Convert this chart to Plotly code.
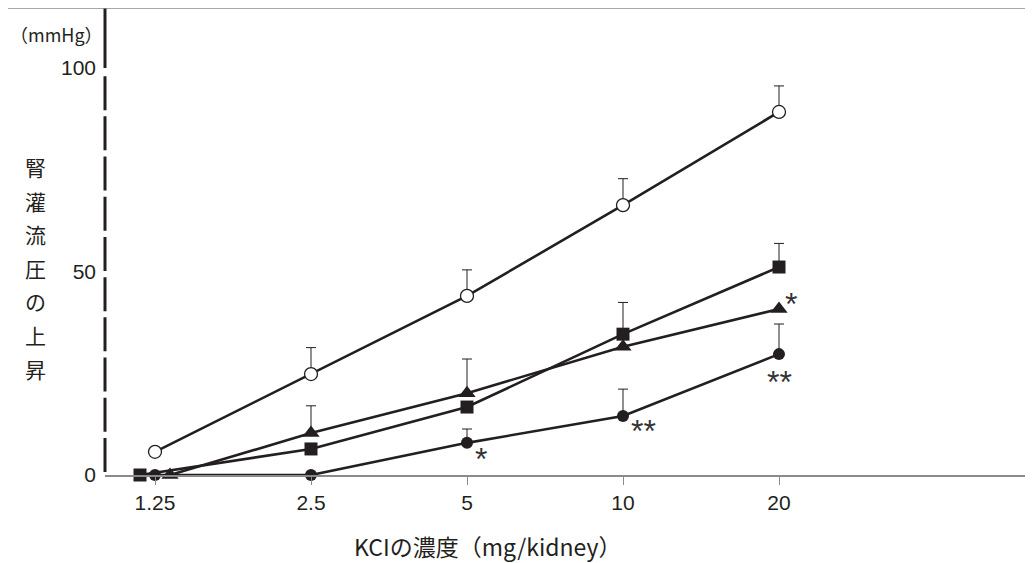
import math
import plotly.graph_objects as go

# ---------------- data ----------------
doses = [1.25, 2.5, 5, 10, 20]
dose_labels = ["1.25", "2.5", "5", "10", "20"]

open_circle_mean = [5.7, 24.8, 44.0, 66.3, 89.2]
open_circle_err = [0, 6.5, 6.4, 6.5, 6.4]

square_mean = [0, 6.4, 16.7, 34.6, 51.1]
square_err = [0, 0, 0, 7.8, 5.8]

triangle_mean = [0, 10.3, 20.1, 31.5, 40.8]
triangle_err = [0, 6.7, 8.4, 0, 0]

filled_circle_mean = [0, 0, 7.9, 14.5, 29.7]
filled_circle_err = [0, 0, 3.4, 6.6, 7.4]

y_ticks = [0, 50, 100]
y_title_chars = ["腎", "灌", "流", "圧", "の", "上", "昇"]
x_title = "KCIの濃度（mg/kidney）"
y_unit = "（mmHg）"

# significance marks: (series, dose index, text, xshift, yshift)
sig_marks = [
    ("triangle", 4, "*", 12, 5),
    ("filled", 4, "**", 0, -28),
    ("filled", 3, "**", 20, -15),
    ("filled", 2, "*", 14, -16),
]

# ---------------- style ----------------
INK = "#231f20"
GRAY = "#8a8a8a"
PAGE_OFF = 8                       # default body margin of the html page
W, H = 1033 - PAGE_OFF, 563 - PAGE_OFF
ML, MR, MT = 105 - PAGE_OFF, 0, 8 - PAGE_OFF
MB = H - (475 - PAGE_OFF)
PX_PER_DOUBLING = 156.0
JITTER_PX = 15.0
PLOT_H = H - MT - MB
PLOT_W = W - ML - MR
Y_MAX = PLOT_H / 4.07
x_left = 1.25 / 2 ** (50 / PX_PER_DOUBLING)
x_right = x_left * 2 ** (PLOT_W / PX_PER_DOUBLING)

jit = 2 ** (JITTER_PX / PX_PER_DOUBLING)


def jittered(xs, factor):
    # nudge the first (overlapping, zero-valued) point sideways
    return [xs[0] * factor] + list(xs[1:])


def px_x(page_x):
    return (page_x - PAGE_OFF - ML) / PLOT_W


def px_y(page_y):
    return 1 - (page_y - PAGE_OFF - MT) / PLOT_H


JP = "Noto Sans CJK JP"
NUM = "Liberation Sans"

fig = go.Figure()


def add_series(x, y, err, symbol, size, fill, line_w):
    fig.add_trace(go.Scatter(
        x=x, y=y, mode="lines+markers",
        line=dict(color=INK, width=2.6),
        marker=dict(symbol=symbol, size=size, color=fill,
                    line=dict(color=INK, width=line_w)),
        error_y=dict(type="data", symmetric=False, array=err,
                     arrayminus=[0] * len(err), color=INK,
                     thickness=1, width=5),
        cliponaxis=False, hoverinfo="skip", showlegend=False,
    ))


add_series(jittered(doses, 1 / jit), square_mean, square_err, "square", 13, INK, 0)
add_series(jittered(doses, jit), triangle_mean, triangle_err, "triangle-up", 15, INK, 0)
add_series(doses, filled_circle_mean, filled_circle_err, "circle", 12, INK, 0)
add_series(doses, open_circle_mean, open_circle_err, "circle", 13, "white", 1.3)

series_lookup = {
    "triangle": (doses, triangle_mean),
    "filled": (doses, filled_circle_mean),
}
for name, idx, txt, dx, dy in sig_marks:
    xs, ys = series_lookup[name]
    fig.add_annotation(
        x=math.log10(xs[idx]), y=ys[idx], xref="x", yref="y",
        text=txt, showarrow=False, xshift=dx, yshift=dy,
        font=dict(family=NUM, size=32, color="#333333"),
        xanchor="center", yanchor="middle",
    )

# y axis drawn as shapes: solid top part, dashed lower part
fig.add_shape(type="line", xref="paper", yref="y", x0=0, x1=0,
              y0=100, y1=Y_MAX, line=dict(color=INK, width=3))
fig.add_shape(type="line", xref="paper", yref="y", x0=0, x1=0,
              y0=98.0, y1=0, line=dict(color=INK, width=3, dash="34px,6.2px"))
# top border
fig.add_shape(type="line", xref="paper", yref="paper",
              x0=px_x(0), x1=1, y0=1, y1=1,
              line=dict(color=GRAY, width=1.5))

# y title, stacked vertically
TITLE_TOP_PX = 167
TITLE_STEP_PX = 33.6
for i, ch in enumerate(y_title_chars):
    fig.add_annotation(
        x=px_x(35), y=px_y(TITLE_TOP_PX + i * TITLE_STEP_PX),
        xref="paper", yref="paper", text=ch, showarrow=False,
        font=dict(family=JP, size=21, color=INK),
        xanchor="center", yanchor="middle",
    )

fig.add_annotation(
    x=px_x(56), y=px_y(34), xref="paper", yref="paper",
    text=y_unit, showarrow=False, font=dict(family=JP, size=18, color=INK),
    xanchor="center", yanchor="middle",
)

# x title (centred left of the plot-area centre, as in the original)
fig.add_annotation(
    x=px_x(487), y=px_y(546), xref="paper", yref="paper",
    text=x_title, showarrow=False, font=dict(family=JP, size=23, color=INK),
    xanchor="center", yanchor="middle",
)

fig.update_layout(
    width=W, height=H,
    margin=dict(l=ML, r=MR, t=MT, b=MB),
    paper_bgcolor="white", plot_bgcolor="white",
    xaxis=dict(
        type="log", range=[math.log10(x_left), math.log10(x_right)],
        tickvals=doses, ticktext=dose_labels,
        showgrid=False, zeroline=False,
        showline=True, linecolor=GRAY, linewidth=1.5,
        ticks="outside", ticklen=8, tickcolor=GRAY, tickwidth=1,
        tickfont=dict(family=NUM, size=21, color=INK),
    ),
    yaxis=dict(
        range=[0, Y_MAX], tickvals=y_ticks,
        showgrid=False, zeroline=False, showline=False,
        ticks="", ticklabelstandoff=8,
        tickfont=dict(family=NUM, size=21, color=INK),
    ),
)

fig.write_html("out.html")
